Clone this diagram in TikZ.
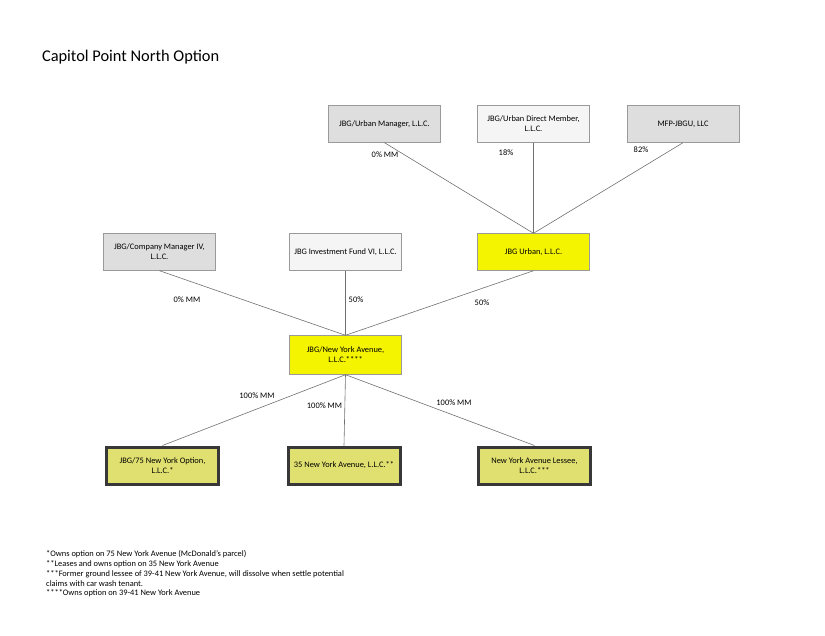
\documentclass[tikz,border=0pt]{standalone}
\usepackage{fontspec}
\setmainfont{Carlito}
\usetikzlibrary{shadows}
\definecolor{boxgray}{HTML}{DEDEDE}
\definecolor{boxwhite}{HTML}{F5F5F5}
\definecolor{boxyellow}{HTML}{F4F400}
\definecolor{boxolive}{HTML}{E0E070}
\definecolor{edgegray}{HTML}{9A9A9A}
\definecolor{linkgray}{HTML}{707070}
\tikzset{
	entnode/.style = {align=center, inner sep=0pt, text centered,
		font=\fontsize{8.4}{10.2}\selectfont, draw=edgegray,
		minimum width=112pt, minimum height=37pt},
	ent_g/.style = {entnode, fill=boxgray},% entite, gris
	ent_w/.style = {entnode, fill=boxwhite},% entite, blanc
	ent_y/.style = {entnode, fill=boxyellow},% entite, jaune
	ent_s/.style = {entnode, fill=boxolive, draw=black!78, line width=3pt,
		minimum width=112pt, minimum height=37pt,
		drop shadow={shadow xshift=1.5pt, shadow yshift=-1.5pt, opacity=0.35}},% filiale
	pct/.style = {font=\fontsize{8.4}{10.2}\selectfont, inner sep=1pt},
	link/.style = {draw=linkgray, line width=0.6pt}
}
\begin{document}
\begin{tikzpicture}[x=1pt,y=-1pt]
	\useasboundingbox (0,0) rectangle (825,635);
	\node [anchor=west, font=\fontsize{16.4}{19}\selectfont] (title) at (38.5,57) {Capitol Point North Option};
	% niveau 1
	\node [ent_g] (urbmgr) at (384.5,124) {JBG/Urban Manager, L.L.C.};
	\node [ent_w] (urbdm) at (533.5,124) {JBG/Urban Direct Member,\\L.L.C.};
	\node [ent_g] (mfp) at (683,124) {MFP-JBGU, LLC};
	% niveau 2
	\node [ent_g] (cmiv) at (159.5,252) {JBG/Company Manager IV,\\L.L.C.};
	\node [ent_w] (fundvi) at (345.5,252) {JBG Investment Fund VI, L.L.C.};
	\node [ent_y] (urban) at (533.5,252) {JBG Urban, L.L.C.};
	% niveau 3
	\node [ent_y, minimum height=39pt] (nya) at (345.5,355) {JBG/New York Avenue,\\L.L.C.****};
	% filiales
	\node [ent_s] (opt75) at (162.5,465.5) {JBG/75 New York Option,\\L.L.C.*};
	\node [ent_s] (ny35) at (344,465.5) {35 New York Avenue, L.L.C.**};
	\node [ent_s] (lessee) at (534.5,465.5) {New York Avenue Lessee,\\L.L.C.***};
	% liens
	\draw [link] (urbmgr.south) -- (urban.north);
	\draw [link] (urbdm.south) -- (urban.north);
	\draw [link] (mfp.south) -- (urban.north);
	\draw [link] (cmiv.south) -- (nya.north);
	\draw [link] (fundvi.south) -- (nya.north);
	\draw [link] (urban.south) -- (nya.north);
	\draw [link] (nya.south) -- (opt75.north);
	\draw [link] (nya.south) -- (ny35.north);
	\draw [link] (nya.south) -- (lessee.north);
	% pourcentages
	\node [pct] (p1) at (385,155) {0\% MM};
	\node [pct] (p2) at (506,153) {18\%};
	\node [pct] (p3) at (641,150) {82\%};
	\node [pct] (p4) at (187,300) {0\% MM};
	\node [pct] (p5) at (356,300) {50\%};
	\node [pct] (p6) at (482,303) {50\%};
	\node [pct] (p7) at (257,396) {100\% MM};
	\node [pct] (p8) at (324.5,406) {100\% MM};
	\node [pct] (p9) at (454,403) {100\% MM};
	% notes
	\node [anchor=north west, align=left, inner sep=0pt,
		font=\fontsize{8.4}{9.9}\selectfont] (notes) at (46,550)
		{*Owns option on 75 New York Avenue (McDonald's parcel)\\
		**Leases and owns option on 35 New York Avenue\\
		***Former ground lessee of 39-41 New York Avenue, will dissolve when settle potential\\
		claims with car wash tenant.\\
		****Owns option on 39-41 New York Avenue};
\end{tikzpicture}
\end{document}
